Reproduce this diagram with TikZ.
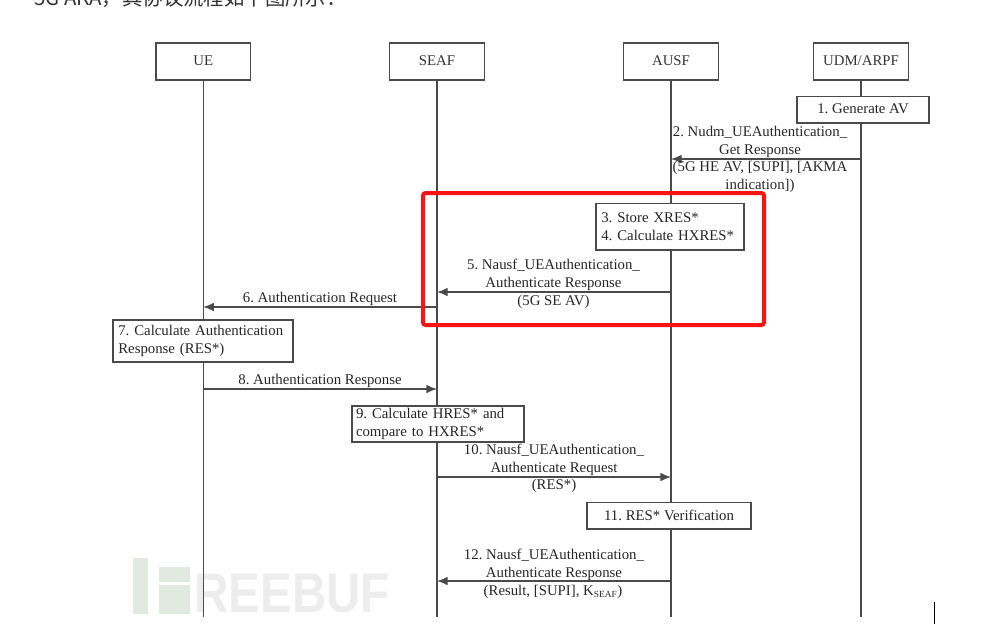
\documentclass[tikz,border=0pt]{standalone}
\usepackage{fontspec}
\usepackage{graphicx}
\usetikzlibrary{arrows.meta}
\setmainfont{Liberation Serif}
\newfontfamily\cjkfont{Noto Sans CJK SC}
\newfontfamily\wmfont{Liberation Sans}
\definecolor{ln}{HTML}{4A4A4A}
\frenchspacing
\begin{document}
\begin{tikzpicture}[x=0.75pt,y=-0.75pt,
  lane/.style={draw=ln,line width=1pt,fill=white,minimum height=27.75pt,minimum width=71pt,inner sep=0pt,font=\fontsize{11.1}{13.5}\selectfont\frenchspacing,text=black!80},
  actbox/.style={draw=ln,line width=1pt,fill=white,inner sep=0pt,align=left,font=\fontsize{11.1}{13.5}\selectfont\frenchspacing,text=black!85},
  life/.style={draw=ln,line width=1pt},
  msg/.style={draw=ln,line width=1pt,-{Latex[length=8pt,width=6.5pt]}},
  lab/.style={align=center,inner sep=0pt,font=\fontsize{11.1}{13.5}\selectfont\frenchspacing,text=black!85}]
\useasboundingbox (0,0) rectangle (998,640);
% clipped heading
\begin{scope}
\clip (0,0) rectangle (998,640);
\node[anchor=base west,inner sep=0pt,font=\cjkfont\fontsize{15.3}{17}\selectfont,text=black!80] (head) at (34,5) {5G AKA，其协议流程如下图所示：};
\end{scope}
% watermark
\fill[green!30!black!12] (133,558) rectangle (148,614);
\fill[green!30!black!12] (159,567) rectangle (190,582);
\fill[green!30!black!12] (159,585) rectangle (190,614);
\node[anchor=base west,inner sep=0pt,text=black!7,font=\wmfont\bfseries\fontsize{42}{42}\selectfont] (wm) at (194,612) {\scalebox{0.85}[1]{REEBUF}};
% participants
\node[lane] (ue) at (203.2,61.5) {\raisebox{1.5pt}{UE}};
\node[lane] (seaf) at (437,61.5) {\raisebox{1.5pt}{SEAF}};
\node[lane] (ausf) at (671,61.5) {\raisebox{1.5pt}{AUSF}};
\node[lane] (udm) at (861,61.5) {\raisebox{1.5pt}{UDM/ARPF}};
\coordinate (ueb) at (203.2,617);
\coordinate (seafb) at (437,617);
\coordinate (ausfb) at (671,617);
\coordinate (udmb) at (861,617);
\draw[life] (ue) -- (ueb);
\draw[life] (seaf) -- (seafb);
\draw[life] (ausf) -- (ausfb);
\draw[life] (udm) -- (udmb);
% activity boxes
\node[actbox,minimum width=99pt,minimum height=20pt,align=center] (b1) at (863,109.5) {\raisebox{1pt}{1. Generate AV}};
\node[actbox,text width=111pt,minimum height=35pt] (b3) at (670,226.5) {\hspace*{4pt}3. Store XRES*\\\hspace*{4pt}4. Calculate HXRES*};
\node[actbox,text width=135pt,minimum height=31.5pt] (b7) at (203,341) {\hspace*{4pt}7. Calculate Authentication\\\hspace*{4pt}Response (RES*)};
\node[actbox,text width=129pt,minimum height=27pt] (b9) at (438,424) {\hspace*{3pt}9. Calculate HRES* and\\\hspace*{3pt}compare to HXRES*};
\node[actbox,minimum width=123pt,minimum height=20pt,align=center] (b11) at (669,515.5) {11. RES* Verification};
% messages
\coordinate (m2a) at (861,159); \coordinate (m2b) at (671,159);
\coordinate (m5a) at (671,292); \coordinate (m5b) at (437,292);
\coordinate (m6a) at (437,307); \coordinate (m6b) at (203.2,307);
\coordinate (m8a) at (203.2,389); \coordinate (m8b) at (437,389);
\coordinate (m10a) at (437,477); \coordinate (m10b) at (671,477);
\coordinate (m12a) at (671,581); \coordinate (m12b) at (437,581);
\draw[msg] (m2a) -- (m2b);
\draw[msg] (m5a) -- (m5b);
\draw[msg] (m6a) -- (m6b);
\draw[msg] (m8a) -- (m8b);
\draw[msg] (m10a) -- (m10b);
\draw[msg] (m12a) -- (m12b);
% labels
\node[lab] (l2a) at (760,142) {2. Nudm\_UEAuthentication\_\\Get Response};
\node[lab] (l2b) at (760,177) {(5G HE AV, [SUPI], [AKMA\\indication])};
\node[lab] (l5) at (553.5,275) {5. Nausf\_UEAuthentication\_\\Authenticate Response};
\node[lab] (l5b) at (553.5,302) {(5G SE AV)};
\node[lab] (l6) at (320,299) {6. Authentication Request};
\node[lab] (l8) at (320,381) {8. Authentication Response};
\node[lab] (l10) at (554,460) {10. Nausf\_UEAuthentication\_\\Authenticate Request};
\node[lab] (l10b) at (554,486) {(RES*)};
\node[lab] (l12) at (554,565) {12. Nausf\_UEAuthentication\_\\Authenticate Response};
\node[lab] (l12b) at (553,592) {(Result, [SUPI], K\textsubscript{\fontsize{7}{7}\selectfont SEAF})};
% highlight
\draw[draw={rgb,255:red,250;green,20;blue,20},line width=3pt,rounded corners=2pt] (423,193) rectangle (764,325);
% caret
\coordinate (ca) at (934.5,602); \coordinate (cb) at (934.5,624);
\draw[black,line width=0.9pt] (ca) -- (cb);
\end{tikzpicture}
\end{document}
